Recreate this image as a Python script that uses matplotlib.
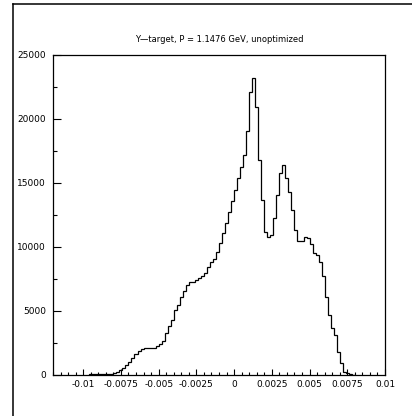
# histogram of the Y-target distribution, redrawn from the scanned figure
import numpy as np
import matplotlib
matplotlib.use("Agg")
import matplotlib.pyplot as plt
from matplotlib.lines import Line2D
from matplotlib.ticker import FixedLocator, MultipleLocator

# bins: 0.0002 wide, first bin starts at -0.0096
bin_start = -0.0096
bin_width = 0.0002
counts = [
    60, 60, 70, 60, 80, 70, 90, 100, 150, 230,
    400, 550, 750, 1000, 1350, 1650, 1900, 2030, 2080, 2100,
    2100, 2120, 2250, 2400, 2650, 3300, 3800, 4300, 5100, 5500,
    6100, 6600, 7000, 7250, 7300, 7400, 7550, 7750, 8000, 8400,
    8800, 9100, 9600, 10300, 11100, 11900, 12700, 13600, 14450, 15400,
    16250, 17200, 19100, 22100, 23200, 20900, 16800, 13700, 11200, 10800,
    10900, 12300, 14100, 15800, 16400, 15400, 14300, 12900, 11300, 10500,
    10500, 10800, 10700, 10200, 9500, 9400, 8800, 7700, 6100, 4700,
    3700, 3100, 1800, 900, 250, 150, 80, 0,
]

x_ticks = [-0.01, -0.0075, -0.005, -0.0025, 0, 0.0025, 0.005, 0.0075, 0.01]
x_labels = ["-0.01", "-0.0075", "-0.005", "-0.0025", "0", "0.0025", "0.005", "0.0075", "0.01"]
y_ticks = [0, 5000, 10000, 15000, 20000, 25000]
y_labels = ["0", "5000", "10000", "15000", "20000", "25000"]
title = "Y\u2014target, P = 1.1476 GeV, unoptimized"

edges = bin_start + bin_width * np.arange(len(counts) + 1)

fig = plt.figure(figsize=(4.12, 4.16), dpi=100)
ax = fig.add_axes([53 / 412, 1 - 375 / 416, 332 / 412, 320 / 416])

ax.stairs(counts, edges, color="black", linewidth=0.9)

ax.set_xlim(-0.012, 0.01)
ax.set_ylim(0, 25000)

ax.xaxis.set_major_locator(FixedLocator(x_ticks))
ax.set_xticklabels(x_labels)
ax.xaxis.set_minor_locator(MultipleLocator(0.0005))
ax.yaxis.set_major_locator(FixedLocator(y_ticks))
ax.set_yticklabels(y_labels)
ax.yaxis.set_minor_locator(MultipleLocator(2500))

ax.tick_params(which="both", direction="in", top=False, right=False, labelsize=6.5, width=0.8)
ax.tick_params(axis="x", which="major", length=4.3, pad=3.5)
ax.tick_params(axis="x", which="minor", length=2.2)
ax.tick_params(axis="y", which="major", length=5.8, pad=5)
ax.tick_params(axis="y", which="minor", length=3)

for s in ax.spines.values():
    s.set_linewidth(0.9)

ax.set_title(title, fontsize=6, pad=9)

# outer frame lines of the scanned page (left and top edges)
fx = 13 / 412
fy = 1 - 4 / 416
fig.add_artist(Line2D([fx, fx], [0, fy], transform=fig.transFigure, color="black", linewidth=1.1))
fig.add_artist(Line2D([fx, 1], [fy, fy], transform=fig.transFigure, color="black", linewidth=1.1))

fig.savefig("out.png", dpi=100)
